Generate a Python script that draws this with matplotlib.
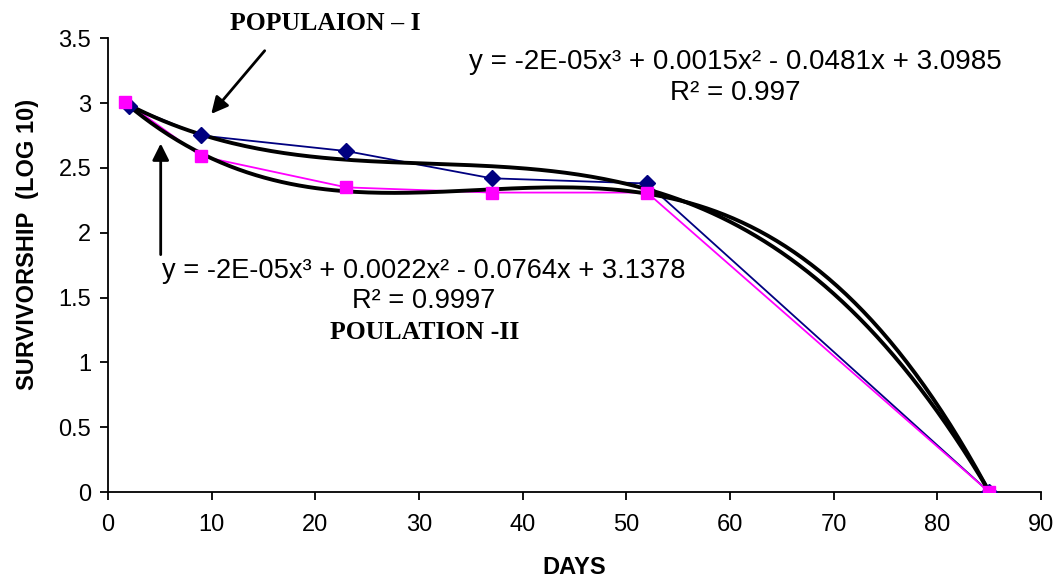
import numpy as np
import matplotlib.pyplot as plt

# survivorship data
days_1 = [2, 9, 23, 37, 52, 85]
pop_1 = [2.98, 2.75, 2.63, 2.42, 2.38, 0.0]
days_2 = [1.7, 9, 23, 37, 52, 85]
pop_2 = [3.01, 2.59, 2.35, 2.31, 2.31, 0.0]

eq_1 = "y = -2E-05x³ + 0.0015x² - 0.0481x + 3.0985\nR² = 0.997"
eq_2 = "y = -2E-05x³ + 0.0022x² - 0.0764x + 3.1378\nR² = 0.9997"

plt.rcParams['font.family'] = ['Liberation Sans', 'DejaVu Sans']

fig = plt.figure(figsize=(10.57, 5.88), dpi=100)
ax = fig.add_axes([0.102, 0.163, 0.883, 0.772])

# raw series
ax.plot(days_1, pop_1, color='#000080', lw=1.3, zorder=2)
ax.plot(days_2, pop_2, color='#FF00FF', lw=1.3, zorder=2)

# cubic trendlines (fitted from the data, like excel does)
for d, p in [(days_1, pop_1), (days_2, pop_2)]:
    c = np.polyfit(d, p, 3)
    xs = np.linspace(min(d), max(d), 200)
    ax.plot(xs, np.polyval(c, xs), color='black', lw=2.8, zorder=3)

ax.plot(days_1, pop_1, ls='none', marker='D', ms=8, color='#000080', zorder=4)
ax.plot(days_2, pop_2, ls='none', marker='s', ms=8, color='#FF00FF', zorder=4)

ax.set_xlim(0, 90)
ax.set_ylim(0, 3.5)
ax.set_xticks(np.arange(0, 91, 10))
ax.set_yticks(np.arange(0, 3.51, 0.5))
ax.set_yticklabels(['0', '0.5', '1', '1.5', '2', '2.5', '3', '3.5'])
ax.tick_params(labelsize=17, length=6, width=1.3, direction='out')
ax.tick_params(axis='x', pad=10)
ax.tick_params(axis='y', pad=6)
ax.spines['top'].set_visible(False)
ax.spines['right'].set_visible(False)
ax.spines['left'].set_linewidth(1.3)
ax.spines['bottom'].set_linewidth(1.3)

ax.set_xlabel("DAYS", fontsize=17, fontweight='bold', labelpad=14)
ax.set_ylabel("SURVIVORSHIP  (LOG 10)", fontsize=17, fontweight='bold')
ax.yaxis.set_label_coords(-0.074, 0.545)

# annotations
ax.text(60.5, 3.2, eq_1, fontsize=20, ha='center', va='center',
        multialignment='center', linespacing=1.25)
ax.text(30.5, 1.59, eq_2, fontsize=19.6, ha='center', va='center',
        multialignment='center', linespacing=1.2)
ax.text(21, 3.61, "POPULAION – I", fontsize=18.5, fontweight='bold',
        family='Liberation Serif', ha='center', va='center', clip_on=False)
ax.text(30.6, 1.23, "POULATION -II", fontsize=18.5, fontweight='bold',
        family='Liberation Serif', ha='center', va='center')

ax.annotate("", xy=(9.8, 2.9), xytext=(15.3, 3.42),
            arrowprops=dict(arrowstyle='-|>', color='black', lw=2,
                            mutation_scale=25), annotation_clip=False)
ax.annotate("", xy=(5.1, 2.71), xytext=(5.1, 1.81),
            arrowprops=dict(arrowstyle='-|>', color='black', lw=2,
                            mutation_scale=25))

plt.savefig("out.png", dpi=100)
